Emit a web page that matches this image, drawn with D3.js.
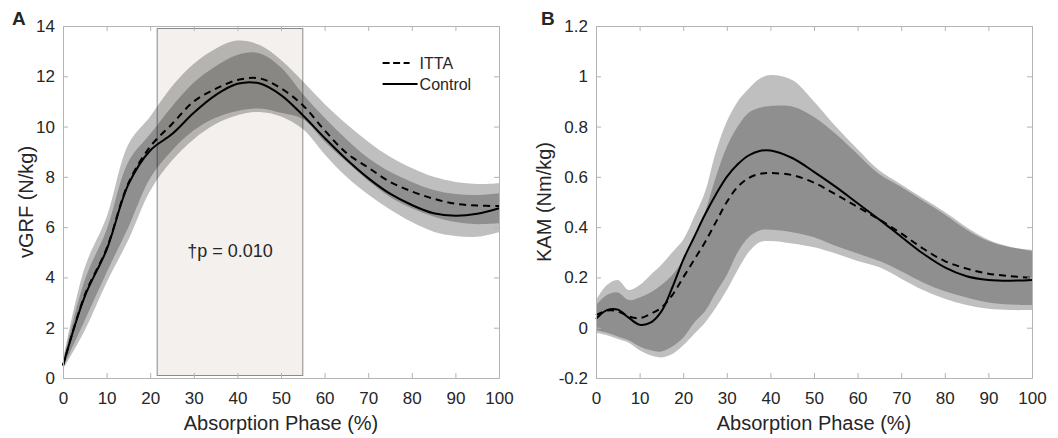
<!DOCTYPE html>
<html>
<head>
<meta charset="utf-8">
<script src="https://cdn.jsdelivr.net/npm/d3@7"></script>
<style>
  body { margin: 0; background: #fff; }
  text { font-family: "Liberation Sans", Arial, sans-serif; fill: #262626; }
</style>
</head>
<body>
<div id="chart"></div>
<script>
// ---- DATA ----
// Panel A: vGRF (N/kg), sampled every 5 % of the absorption phase
const pctA = [0, 5, 10, 15, 20, 25, 30, 35, 40, 45, 50, 55, 60, 65, 70, 75, 80, 85, 90, 95, 100];
const ittaA = [0.5, 3.3, 5.15, 7.75, 9.2, 10.1, 11.0, 11.5, 11.85, 11.92, 11.52, 10.85, 9.85, 8.95, 8.37, 7.8, 7.42, 7.13, 6.93, 6.86, 6.84];
const ctrlA = [0.5, 3.25, 5.1, 7.7, 9.05, 9.7, 10.55, 11.25, 11.7, 11.72, 11.25, 10.45, 9.55, 8.7, 7.95, 7.33, 6.88, 6.55, 6.45, 6.53, 6.75];
const ittaLoA = [0.35, 1.9, 3.8, 5.5, 7.45, 8.65, 9.5, 10.1, 10.45, 10.58, 10.4, 9.9, 8.9, 8.0, 7.3, 6.7, 6.2, 5.82, 5.65, 5.62, 5.8];
const ittaHiA = [0.7, 4.4, 6.4, 9.3, 10.4, 11.6, 12.5, 13.1, 13.42, 13.25, 12.65, 11.8, 10.9, 10.1, 9.4, 8.8, 8.35, 8.0, 7.8, 7.72, 7.75];
const ctrlLoA = [0.42, 2.3, 4.2, 6.0, 7.95, 9.05, 9.85, 10.35, 10.62, 10.72, 10.55, 10.3, 9.4, 8.6, 7.85, 7.2, 6.75, 6.42, 6.2, 6.12, 6.15];
const ctrlHiA = [0.62, 3.9, 5.9, 8.6, 9.7, 10.8, 11.75, 12.4, 12.85, 12.92, 12.35, 11.3, 10.35, 9.5, 8.75, 8.2, 7.8, 7.48, 7.32, 7.28, 7.35];
const sigRangeX = [21.6, 55];     // shaded significance window (%)
const sigRangeY = [0.1, 13.9];
const sigLabel = "\u2020p = 0.010";

// Panel B: KAM (Nm/kg)
const pctB = [0, 2.5, 5, 7.5, 10, 12.5, 15, 17.5, 20, 22.5, 25, 27.5, 30, 32.5, 35, 37.5, 40, 45, 50, 55, 60, 65, 70, 75, 80, 85, 90, 95, 100];
const ittaB = [0.05, 0.068, 0.065, 0.045, 0.038, 0.055, 0.08, 0.13, 0.2, 0.27, 0.34, 0.42, 0.5, 0.56, 0.595, 0.612, 0.615, 0.607, 0.577, 0.53, 0.48, 0.43, 0.375, 0.315, 0.265, 0.235, 0.215, 0.205, 0.198];
const ctrlB = [0.035, 0.07, 0.072, 0.04, 0.012, 0.02, 0.065, 0.16, 0.27, 0.36, 0.45, 0.53, 0.6, 0.65, 0.685, 0.703, 0.705, 0.675, 0.62, 0.56, 0.495, 0.43, 0.362, 0.295, 0.24, 0.205, 0.19, 0.187, 0.19];
const ittaLoB = [-0.02, -0.03, -0.045, -0.06, -0.09, -0.11, -0.118, -0.105, -0.07, -0.025, 0.02, 0.08, 0.15, 0.23, 0.3, 0.34, 0.345, 0.335, 0.32, 0.295, 0.265, 0.24, 0.195, 0.15, 0.115, 0.09, 0.075, 0.07, 0.07];
const ittaHiB = [0.11, 0.17, 0.19, 0.15, 0.17, 0.21, 0.25, 0.3, 0.35, 0.44, 0.54, 0.7, 0.82, 0.9, 0.95, 0.99, 1.005, 0.985, 0.9, 0.8, 0.71, 0.625, 0.57, 0.515, 0.46, 0.4, 0.35, 0.322, 0.305];
const ctrlLoB = [-0.01, -0.02, -0.035, -0.05, -0.075, -0.09, -0.095, -0.075, -0.04, 0.02, 0.065, 0.14, 0.21, 0.3, 0.36, 0.387, 0.39, 0.38, 0.36, 0.325, 0.295, 0.265, 0.225, 0.18, 0.145, 0.12, 0.1, 0.092, 0.09];
const ctrlHiB = [0.09, 0.13, 0.14, 0.11, 0.12, 0.14, 0.17, 0.21, 0.27, 0.36, 0.46, 0.6, 0.72, 0.8, 0.855, 0.875, 0.882, 0.88, 0.838, 0.77, 0.69, 0.61, 0.56, 0.505, 0.45, 0.39, 0.345, 0.32, 0.31];

// Axis ticks
const xTicks = [0, 10, 20, 30, 40, 50, 60, 70, 80, 90, 100];
const yTicksA = [0, 2, 4, 6, 8, 10, 12, 14];
const yTicksB = [-0.2, 0, 0.2, 0.4, 0.6, 0.8, 1, 1.2];
const legendLabels = ["ITTA", "Control"];

// ---- SVG ----
const svg = d3.select("#chart").append("svg")
    .attr("width", 1058)
    .attr("height", 438);

const plotTop = 26, plotBottom = 378;

function zip(xs, ys) { return xs.map((x, i) => [x, ys[i]]); }

function drawPanel(opt) {
    const x = d3.scaleLinear().domain([0, 100]).range([opt.left, opt.right]);
    const y = d3.scaleLinear().domain(opt.yDomain).range([plotBottom, plotTop]);
    const g = svg.append("g");

    // significance window (panel A only)
    if (opt.sig) {
        g.append("rect")
            .attr("x", x(sigRangeX[0]))
            .attr("y", y(sigRangeY[1]))
            .attr("width", x(sigRangeX[1]) - x(sigRangeX[0]))
            .attr("height", y(sigRangeY[0]) - y(sigRangeY[1]))
            .attr("fill", "#f3f0ed")
            .attr("stroke", "#8a8a8a")
            .attr("stroke-width", 1);
    }

    // SD bands, semi transparent so the overlap turns darker
    const area = d3.area()
        .x(d => x(d[0]))
        .y0(d => y(d[1]))
        .y1(d => y(d[2]))
        .curve(d3.curveCatmullRom.alpha(0.5));
    [[opt.ittaLo, opt.ittaHi], [opt.ctrlLo, opt.ctrlHi]].forEach(b => {
        g.append("path")
            .datum(opt.pct.map((p, i) => [p, b[0][i], b[1][i]]))
            .attr("d", area)
            .attr("fill", "#000")
            .attr("fill-opacity", 0.25);
    });

    const line = d3.line()
        .x(d => x(d[0]))
        .y(d => y(d[1]))
        .curve(d3.curveCatmullRom.alpha(0.5));
    g.append("path")
        .datum(zip(opt.pct, opt.ctrl))
        .attr("d", line)
        .attr("fill", "none")
        .attr("stroke", "#000")
        .attr("stroke-width", 2);
    g.append("path")
        .datum(zip(opt.pct, opt.itta))
        .attr("d", line)
        .attr("fill", "none")
        .attr("stroke", "#000")
        .attr("stroke-width", 2)
        .attr("stroke-dasharray", "7,5");

    // axes: MATLAB box style, ticks pointing inwards
    const axisColor = "#b3b3b3";
    const gx = g.append("g")
        .attr("transform", `translate(0,${plotBottom})`)
        .call(d3.axisBottom(x).tickValues(xTicks).tickSizeInner(-5).tickSizeOuter(0).tickPadding(14));
    const gy = g.append("g")
        .attr("transform", `translate(${opt.left},0)`)
        .call(d3.axisLeft(y).tickValues(opt.yTicks).tickFormat(d => String(d))
            .tickSizeInner(-5).tickSizeOuter(0).tickPadding(8));
    const gt = g.append("g")
        .attr("transform", `translate(0,${plotTop})`)
        .call(d3.axisTop(x).tickValues(xTicks).tickFormat("").tickSizeInner(-5).tickSizeOuter(0));
    const gr = g.append("g")
        .attr("transform", `translate(${opt.right},0)`)
        .call(d3.axisRight(y).tickValues(opt.yTicks).tickFormat("").tickSizeInner(-5).tickSizeOuter(0));
    [gx, gy, gt, gr].forEach(a => {
        a.selectAll("path, line").attr("stroke", axisColor);
        a.selectAll("text").attr("fill", "#262626").style("font-size", "17px")
            .style("font-family", "'Liberation Sans', Arial, sans-serif");
    });

    // axis labels
    g.append("text")
        .attr("x", (opt.left + opt.right) / 2)
        .attr("y", 430)
        .attr("text-anchor", "middle")
        .style("font-size", "20px")
        .text("Absorption Phase (%)");
    g.append("text")
        .attr("transform", "rotate(-90)")
        .attr("x", -(plotTop + plotBottom) / 2)
        .attr("y", opt.left - opt.yLabelGap)
        .attr("text-anchor", "middle")
        .style("font-size", "20px")
        .text(opt.yLabel);

    // panel letter
    g.append("text")
        .attr("x", opt.left - opt.letterGap)
        .attr("y", 25)
        .style("font-size", "19px")
        .style("font-weight", "bold")
        .text(opt.letter);

    if (opt.sig) {
        g.append("text")
            .attr("x", (x(sigRangeX[0]) + x(sigRangeX[1])) / 2)
            .attr("y", 257)
            .attr("text-anchor", "middle")
            .style("font-size", "18px")
            .text(sigLabel);
    }

    if (opt.legend) {
        const lx = x(73.3), ly = [63, 84];
        legendLabels.forEach((lab, i) => {
            g.append("line")
                .attr("x1", lx).attr("x2", lx + (i === 0 ? 27 : 35))
                .attr("y1", ly[i]).attr("y2", ly[i])
                .attr("stroke", "#000")
                .attr("stroke-width", 2)
                .attr("stroke-dasharray", i === 0 ? "7,3.5" : null);
            g.append("text")
                .attr("x", lx + 37)
                .attr("y", ly[i] + 6)
                .style("font-size", "16px")
                .text(lab);
        });
    }
}

drawPanel({
    left: 63, right: 499, yDomain: [0, 14], yTicks: yTicksA,
    pct: pctA, itta: ittaA, ctrl: ctrlA,
    ittaLo: ittaLoA, ittaHi: ittaHiA, ctrlLo: ctrlLoA, ctrlHi: ctrlHiA,
    yLabel: "vGRF (N/kg)", yLabelGap: 30, letter: "A", letterGap: 51, sig: true, legend: true
});

drawPanel({
    left: 596, right: 1032, yDomain: [-0.2, 1.2], yTicks: yTicksB,
    pct: pctB, itta: ittaB, ctrl: ctrlB,
    ittaLo: ittaLoB, ittaHi: ittaHiB, ctrlLo: ctrlLoB, ctrlHi: ctrlHiB,
    yLabel: "KAM (Nm/kg)", yLabelGap: 45, letter: "B", letterGap: 55, sig: false, legend: false
});
</script>
</body>
</html>
